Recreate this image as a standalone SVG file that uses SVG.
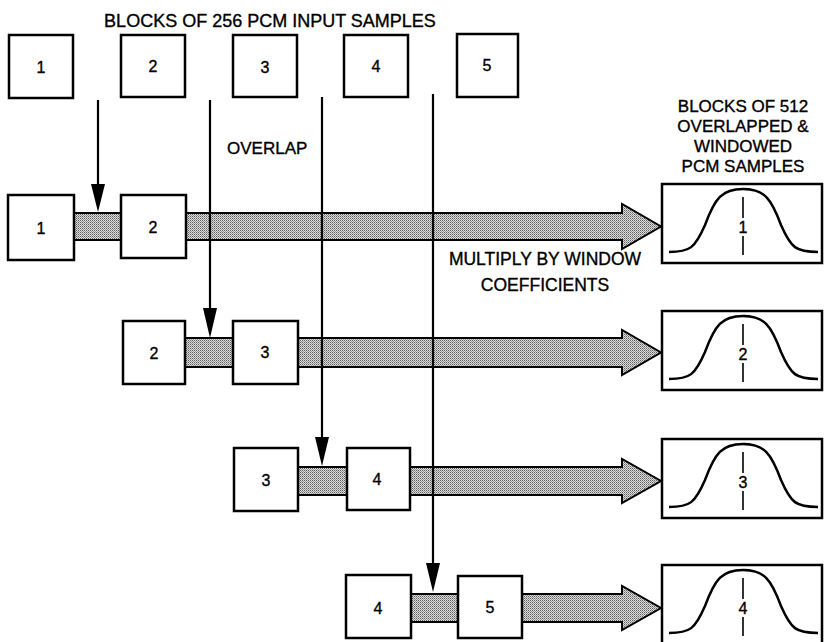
<svg xmlns="http://www.w3.org/2000/svg" width="824" height="642" viewBox="0 0 824 642">
<style>
.box{fill:#fff;stroke:#000;stroke-width:2.5}
.obox{fill:#fff;stroke:#000;stroke-width:2.5}
.bar{fill:url(#dots);stroke:#000;stroke-width:2}
.vl{fill:none;stroke:#000;stroke-width:2.2}
.hd{fill:#000;stroke:none}
.bell{fill:none;stroke:#000;stroke-width:2.5}
.dl{fill:none;stroke:#000;stroke-width:1.6}
text{font-family:"Liberation Sans",Arial,Helvetica,sans-serif;fill:#000;stroke:#000;stroke-width:0.35}
.num{font-size:16px;text-anchor:middle;dominant-baseline:central}
.onum{font-size:16px;text-anchor:middle;dominant-baseline:central}
.lbl{font-size:17.5px}
.mid{text-anchor:middle}
</style>
<defs>
<pattern id="dots" width="2" height="2" patternUnits="userSpaceOnUse">
<rect width="2" height="2" fill="#dcdcdc"/>
<rect width="1" height="1" fill="#5e5e5e"/>
<rect x="1" y="1" width="1" height="1" fill="#959595"/>
</pattern>
<path id="bellp" class="bell" d="M7,68 C28,68 33,64 43,41 C53,14 60,5 81,5 C102,5 109,14 119,41 C129,64 134,68 156,68"/>
</defs>

<text class="lbl mid" x="270" y="27" style="font-size:18px">BLOCKS OF 256 PCM INPUT SAMPLES</text>
<text class="lbl" x="227" y="154" style="font-size:17px">OVERLAP</text>
<text class="lbl mid" x="545" y="265">MULTIPLY BY WINDOW</text>
<text class="lbl mid" x="545" y="291">COEFFICIENTS</text>
<g class="lbl mid" style="font-size:17px">
<text x="743" y="112">BLOCKS OF 512</text>
<text x="743" y="132">OVERLAPPED &amp;</text>
<text x="743" y="152">WINDOWED</text>
<text x="743" y="172">PCM SAMPLES</text>
</g>

<g id="connectors">
<polygon class="bar" points="74,213 622,213 622,204 661,226.5 622,249 622,240 74,240"/>
<polygon class="bar" points="185,338 622,338 622,330 661,352.5 622,375 622,367 185,367"/>
<polygon class="bar" points="298,467 622,467 622,459 661,481 622,503 622,495 298,495"/>
<polygon class="bar" points="411,594 622,594 622,586 661,608 622,630 622,622 411,622"/>
</g>

<g id="input-top">
<g id="in1"><rect class="box" x="9" y="35" width="64" height="63"/><text class="num" x="41" y="67">1</text></g>
<g id="in2"><rect class="box" x="121" y="35" width="64" height="62"/><text class="num" x="153" y="66">2</text></g>
<g id="in3"><rect class="box" x="233" y="35" width="64" height="62"/><text class="num" x="265" y="67">3</text></g>
<g id="in4"><rect class="box" x="344" y="35" width="64" height="62"/><text class="num" x="376" y="66">4</text></g>
<g id="in5"><rect class="box" x="457" y="34" width="61" height="63"/><text class="num" x="487" y="65">5</text></g>
</g>

<g id="row1">
<g id="r1a"><rect class="box" x="8" y="195" width="66" height="65"/><text class="num" x="41" y="228">1</text></g>
<g id="r1b"><rect class="box" x="121" y="195" width="65" height="63"/><text class="num" x="153" y="227">2</text></g>
</g>
<g id="row2">
<g id="r2a"><rect class="box" x="123" y="321" width="62" height="63"/><text class="num" x="154" y="353">2</text></g>
<g id="r2b"><rect class="box" x="233" y="321" width="65" height="63"/><text class="num" x="265" y="352">3</text></g>
</g>
<g id="row3">
<g id="r3a"><rect class="box" x="234" y="448" width="64" height="63"/><text class="num" x="266" y="480">3</text></g>
<g id="r3b"><rect class="box" x="347" y="448" width="63" height="62"/><text class="num" x="377" y="479">4</text></g>
</g>
<g id="row4">
<g id="r4a"><rect class="box" x="346" y="575" width="65" height="63"/><text class="num" x="378" y="608">4</text></g>
<g id="r4b"><rect class="box" x="458" y="576" width="64" height="62"/><text class="num" x="490" y="607">5</text></g>
</g>

<g id="out1" transform="translate(662,184)">
<rect class="obox" x="0" y="0" width="160" height="79"/>
<use href="#bellp"/>
<path class="dl" d="M81,13 V34 M81,52 V71"/>
<text class="onum" x="81" y="43">1</text>
</g>
<g id="out2" transform="translate(662,311)">
<rect class="obox" x="0" y="0" width="160" height="79"/>
<use href="#bellp"/>
<path class="dl" d="M81,13 V34 M81,52 V71"/>
<text class="onum" x="81" y="43">2</text>
</g>
<g id="out3" transform="translate(662,439)">
<rect class="obox" x="0" y="0" width="160" height="79"/>
<use href="#bellp"/>
<path class="dl" d="M81,13 V34 M81,52 V71"/>
<text class="onum" x="81" y="43">3</text>
</g>
<g id="out4" transform="translate(662,565)">
<rect class="obox" x="0" y="0" width="160" height="80"/>
<use href="#bellp"/>
<path class="dl" d="M81,13 V34 M81,52 V71"/>
<text class="onum" x="81" y="43">4</text>
</g>

<g id="vertical-arrows">
<path class="vl" d="M98,100 V190"/>
<polygon class="hd" points="91,184 105,184 98,212"/>
<path class="vl" d="M210,100 V315"/>
<polygon class="hd" points="203,308 217,308 210,338"/>
<path class="vl" d="M322,97 V444"/>
<polygon class="hd" points="315,437 329,437 322,466"/>
<path class="vl" d="M433,94 V570"/>
<polygon class="hd" points="426,563 440,563 433,592"/>
</g>
</svg>
